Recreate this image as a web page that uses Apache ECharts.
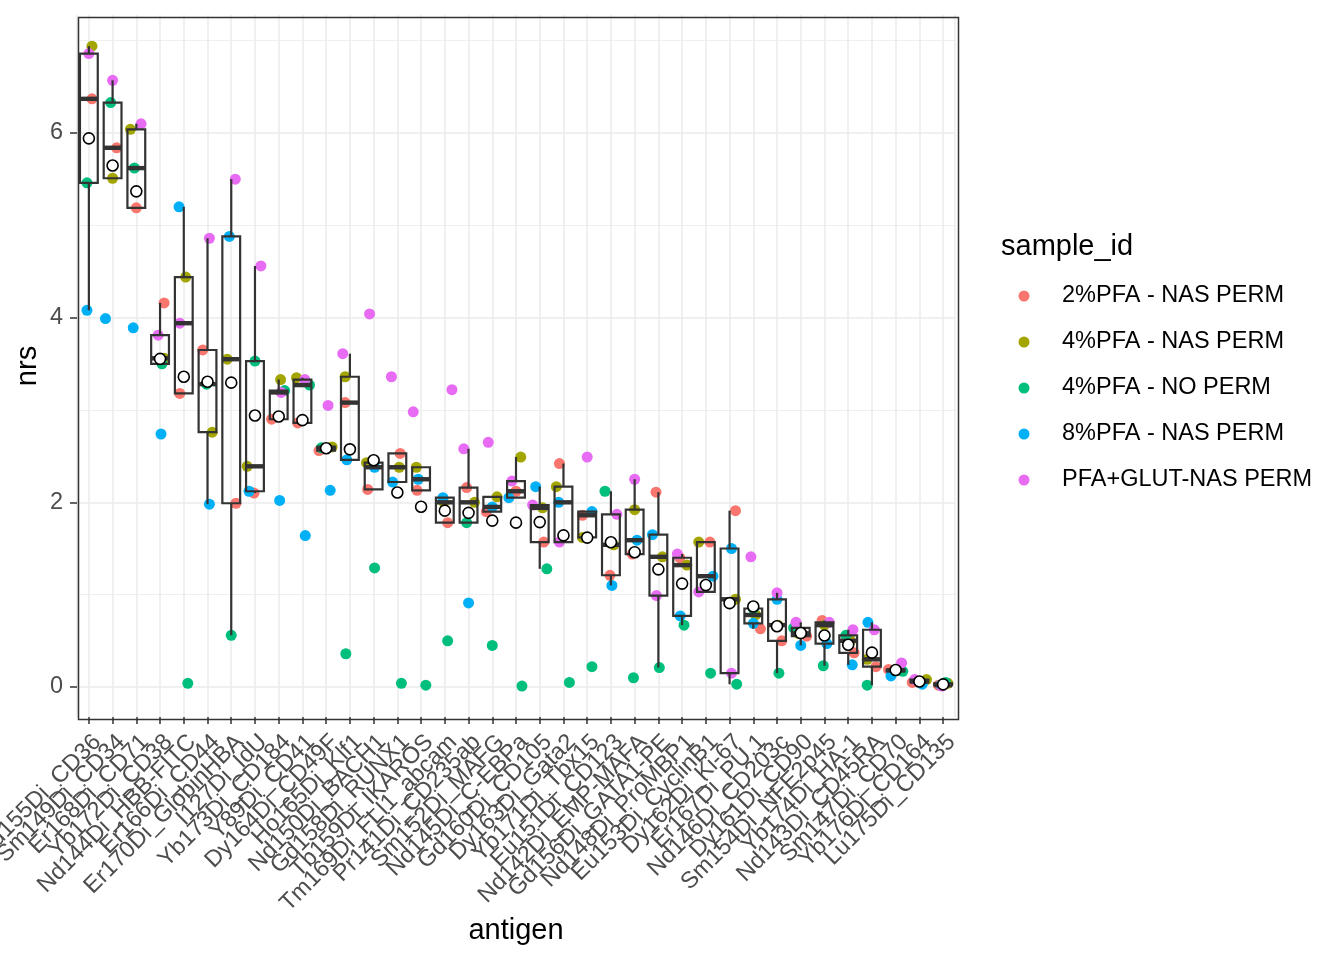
<!DOCTYPE html>
<html>
<head>
<meta charset="utf-8">
<script src="https://cdn.jsdelivr.net/npm/echarts@6/dist/echarts.min.js"></script>
<style>
  html, body { margin: 0; padding: 0; background: #fff; }
  #chart { width: 1344px; height: 960px; }
</style>
</head>
<body>
<div id="chart"></div>
<script>
const antigens = [
  'Gd155Di_CD36', 'Sm149Di_CD34', 'Er168Di_CD71', 'Yb172Di_CD38', 'Nd144Di_HBB-FITC',
  'Er166Di_CD44', 'Er170Di_GlobinHBA', 'I127Di_IdU', 'Yb173Di_CD184', 'Y89Di_CD41',
  'Dy164Di_CD49F', 'Ho165Di_Klf1', 'Nd150Di_BACH1', 'Gd158Di_RUNX1', 'Tb159Di_IKAROS',
  'Tm169Di_FLI1_abcam', 'Pr141Di_CD235ab', 'Sm152Di_MAFG', 'Nd145Di_C-EBPa', 'Gd160Di_CD105',
  'Dy163Di_Gata2', 'Yb171Di_Tbx15', 'Eu151Di_CD123', 'Nd142Di_EMP-MAFA', 'Gd156Di_GATA1-PE',
  'Nd148Di_ProMBP1', 'Eu153Di_CyclinB1', 'Dy162Di_Ki-67', 'Er167Di_PU.1', 'Nd146Di_CD203c',
  'Dy161Di_CD90', 'Sm154Di_NFE2p45', 'Yb174Di_HA-1', 'Nd143Di_CD45RA', 'Sm147Di_CD70',
  'Yb176Di_CD164', 'Lu175Di_CD135'
];

const sampleIds = ['2%PFA - NAS PERM', '4%PFA - NAS PERM', '4%PFA - NO PERM', '8%PFA - NAS PERM', 'PFA+GLUT-NAS PERM'];
const sampleColors = ['#F8766D', '#A3A500', '#00BF7D', '#00B0F6', '#E76BF3'];

// nrs per antigen, one array per sample
const pfa2Nas = [6.37, 5.84, 5.19, 4.16, 3.18, 3.65, 1.99, 2.10, 2.90, 2.86, 2.56, 3.08, 2.14, 2.53, 2.13, 1.78, 2.16, 1.90, 2.12, 1.57,
  2.42, 1.86, 1.21, 1.44, 2.11, 1.40, 1.57, 1.91, 0.63, 0.50, 0.55, 0.72, 0.37, 0.22, 0.19, 0.05, 0.02];
const pfa4Nas = [6.94, 5.51, 6.04, 3.56, 4.44, 2.76, 3.55, 2.39, 3.33, 3.35, 2.60, 3.36, 2.43, 2.38, 2.38, 2.00, 2.00, 2.06, 2.49, 1.94,
  2.17, 1.62, 1.54, 1.92, 1.41, 1.32, 1.57, 0.95, 0.78, 0.67, 0.58, 0.67, 0.50, 0.30, 0.18, 0.08, 0.04];
const pfa4NoPerm = [5.46, 6.33, 5.62, 3.50, 0.04, 3.28, 0.56, 3.53, 3.21, 3.27, 2.59, 0.36, 1.29, 0.04, 0.02, 0.50, 1.78, 0.45, 0.01, 1.28,
  0.05, 0.22, 2.12, 0.10, 0.21, 0.67, 0.15, 0.03, 0.85, 0.15, 0.64, 0.23, 0.56, 0.02, 0.17, 0.06, 0.05];
const pfa8Nas = [4.08, 3.99, 3.89, 2.74, 5.20, 1.98, 4.88, 2.12, 2.02, 1.64, 2.13, 2.46, 2.38, 2.22, 2.25, 2.05, 0.91, 1.95, 2.05, 2.17,
  2.00, 1.90, 1.10, 1.59, 1.65, 0.77, 1.20, 1.50, 0.69, 0.95, 0.45, 0.47, 0.24, 0.70, 0.12, 0.03, 0.02];
const pfaGlut = [6.86, 6.57, 6.10, 3.81, 3.94, 4.86, 5.50, 4.56, 3.19, 3.33, 3.05, 3.61, 4.04, 3.36, 2.98, 3.22, 2.58, 2.65, 2.23, 1.97,
  1.57, 2.49, 1.87, 2.25, 0.99, 1.44, 1.03, 0.15, 1.41, 1.02, 0.70, 0.70, 0.62, 0.62, 0.26, 0.08, 0.01];

// horizontal jitter of each point, in category widths
const pfa2NasJit = [0.13, 0.17, 0, 0.17, -0.17, -0.2, 0.2, -0.04, -0.3, -0.2, -0.3, -0.2, -0.25, 0.12, -0.17, 0.12, -0.08, -0.25, 0, 0.17,
  -0.17, -0.2, -0.04, -0.1, -0.1, -0.1, 0.17, 0.25, 0.3, 0.2, 0.25, -0.1, 0.25, 0.17, -0.3, -0.3, -0.2];
const pfa4NasJit = [0.13, 0, -0.25, 0.17, 0.08, 0.2, -0.17, -0.33, 0.08, -0.25, 0.25, -0.2, -0.3, 0.08, -0.2, -0.04, 0.25, 0.2, 0.2, 0.12,
  -0.3, -0.2, 0.12, 0, 0.17, 0.2, -0.3, 0.25, 0.1, 0.04, -0.1, 0, 0.1, -0.2, 0, 0.3, 0.2];
const pfa4NoPermJit = [-0.08, -0.08, -0.08, 0.08, 0.17, -0.04, 0, 0, 0.25, 0.3, -0.2, -0.17, 0.04, 0.17, 0.2, 0.12, -0.08, 0, 0.25, 0.3,
  0.25, 0.2, -0.25, -0.05, 0.04, 0.08, 0.2, 0.3, 0, 0.08, -0.3, -0.05, -0.1, -0.2, 0.3, 0, 0.1];
const pfa8NasJit = [-0.08, -0.3, -0.13, 0.04, -0.2, 0.08, -0.08, -0.25, 0.04, 0.12, 0.17, -0.13, 0.04, -0.2, -0.12, -0.08, 0, 0, -0.3, -0.17,
  -0.2, 0.2, 0.04, 0.1, -0.25, -0.08, 0.3, 0.08, 0, 0, 0, 0.1, 0.17, -0.17, -0.2, 0.12, -0.1];
const pfaGlutJit = [0, 0, 0.2, -0.08, -0.17, 0.08, 0.17, 0.25, 0.1, 0.1, 0.08, -0.3, -0.17, -0.25, -0.33, 0.3, -0.2, -0.17, -0.17, -0.3,
  -0.17, 0, 0.25, 0, -0.08, -0.2, -0.3, 0.08, -0.1, 0, -0.2, 0.2, 0.2, 0.1, 0.25, -0.2, -0.05];

const sampleValues = [pfa2Nas, pfa4Nas, pfa4NoPerm, pfa8Nas, pfaGlut];
const sampleJitter = [pfa2NasJit, pfa4NasJit, pfa4NoPermJit, pfa8NasJit, pfaGlutJit];

const yTicks = [0, 2, 4, 6];

const FONT = '"Liberation Sans", Arial, Helvetica, sans-serif';

// R type 7 quantile
function quantile(sorted, p) {
  const h = (sorted.length - 1) * p;
  const lo = Math.floor(h);
  const hi = Math.ceil(h);
  return sorted[lo] + (h - lo) * (sorted[hi] - sorted[lo]);
}

const boxData = [];
const meanData = [];
antigens.forEach((name, i) => {
  const vals = sampleValues.map(s => s[i]);
  const sorted = vals.slice().sort((a, b) => a - b);
  const q1 = quantile(sorted, 0.25);
  const med = quantile(sorted, 0.5);
  const q3 = quantile(sorted, 0.75);
  const iqr = q3 - q1;
  const inside = sorted.filter(v => v >= q1 - 1.5 * iqr && v <= q3 + 1.5 * iqr);
  boxData.push([i, inside[0], q1, med, q3, inside[inside.length - 1]]);
  meanData.push([i, vals.reduce((a, b) => a + b, 0) / vals.length]);
});

const chart = echarts.init(document.getElementById('chart'), null, { renderer: 'canvas' });

const pointSeries = sampleIds.map((name, k) => ({
  name: name,
  type: 'scatter',
  xAxisIndex: 1,
  yAxisIndex: 0,
  z: 2,
  symbol: 'circle',
  symbolSize: 11,
  itemStyle: { color: sampleColors[k], opacity: 1 },
  emphasis: { disabled: true },
  data: sampleValues[k].map((v, i) => [i + sampleJitter[k][i], v])
}));

const option = {
  backgroundColor: '#fff',
  animation: false,
  textStyle: { fontFamily: FONT },
  color: sampleColors,
  title: {
    text: 'sample_id',
    left: 1001,
    top: 232,
    padding: 0,
    textStyle: { fontSize: 29, fontWeight: 'normal', color: '#000', fontFamily: FONT }
  },
  legend: {
    orient: 'vertical',
    left: 1018.5,
    top: 284,
    padding: 0,
    itemWidth: 11,
    itemHeight: 11,
    itemGap: 22,
    icon: 'circle',
    data: sampleIds,
    formatter: name => '{gap|}' + name,
    textStyle: {
      fontSize: 23.5, lineHeight: 24, color: '#000', fontFamily: FONT,
      rich: { gap: { width: 27.5 } }
    }
  },
  grid: { left: 77, top: 15, width: 878, height: 702, containLabel: false, outerBoundsMode: 'none' },
  xAxis: [
    {
      type: 'category',
      data: antigens,
      boundaryGap: true,
      axisLine: { show: false, onZero: false },
      axisTick: { show: true, alignWithLabel: true, length: 7, lineStyle: { color: '#333333', width: 1.5 } },
      axisLabel: {
        interval: 0, rotate: 45, margin: 13,
        align: 'right', verticalAlign: 'top',
        fontSize: 23.5, color: '#4D4D4D', fontFamily: FONT
      },
      splitLine: { show: false },
      name: 'antigen',
      nameLocation: 'middle',
      nameGap: 199,
      nameMoveOverlap: false,
      nameTextStyle: { fontSize: 29, color: '#000', fontFamily: FONT }
    },
    {
      type: 'value',
      min: -0.5,
      max: 36.5,
      splitNumber: 37,
      axisLine: { show: false, onZero: false },
      axisTick: { show: false },
      axisLabel: { show: false },
      splitLine: { show: true, lineStyle: { color: '#EBEBEB', width: 1.5 } }
    }
  ],
  yAxis: {
    type: 'value',
    min: -0.325,
    max: 7.278,
    splitNumber: 4,
    axisLine: { show: false, onZero: false },
    axisTick: { show: true, length: 7, customValues: yTicks, lineStyle: { color: '#333333', width: 1.5 } },
    axisLabel: {
      customValues: yTicks,
      margin: 14,
      fontSize: 23.5,
      color: '#4D4D4D',
      fontFamily: FONT,
      formatter: v => (Number.isInteger(v) ? String(v) : '')
    },
    splitLine: { show: true, lineStyle: { color: '#EBEBEB', width: 1.5 } },
    minorTick: { show: false, splitNumber: 2 },
    minorSplitLine: { show: true, lineStyle: { color: '#EBEBEB', width: 0.8 } },
    name: 'nrs',
    nameLocation: 'middle',
    nameGap: 35,
    nameMoveOverlap: false,
    nameRotate: 90,
    nameTextStyle: { fontSize: 29, color: '#000', fontFamily: FONT }
  },
  graphic: [
    {
      type: 'rect',
      left: 76,
      top: 15,
      z: 100,
      silent: true,
      shape: { width: 880, height: 702 },
      style: { fill: 'none', stroke: '#333333', lineWidth: 1.5 }
    }
  ],
  series: pointSeries.concat([
    {
      name: 'box',
      type: 'custom',
      xAxisIndex: 1,
      yAxisIndex: 0,
      z: 3,
      silent: true,
      data: boxData,
      renderItem: function (params, api) {
        const x = api.value(0);
        const lo = api.coord([x, api.value(1)]);
        const q1 = api.coord([x, api.value(2)]);
        const md = api.coord([x, api.value(3)]);
        const q3 = api.coord([x, api.value(4)]);
        const hi = api.coord([x, api.value(5)]);
        const w = api.size([1, 0])[0] * 0.75;
        const cx = q1[0];
        const stroke = { stroke: '#333333', lineWidth: 2.2, fill: 'none' };
        return {
          type: 'group',
          children: [
            { type: 'line', shape: { x1: cx, y1: hi[1], x2: cx, y2: q3[1] }, style: stroke },
            { type: 'line', shape: { x1: cx, y1: q1[1], x2: cx, y2: lo[1] }, style: stroke },
            { type: 'rect', shape: { x: cx - w / 2, y: q3[1], width: w, height: q1[1] - q3[1] }, style: stroke },
            { type: 'line', shape: { x1: cx - w / 2, y1: md[1], x2: cx + w / 2, y2: md[1] },
              style: { stroke: '#333333', lineWidth: 4.4 } }
          ]
        };
      }
    },
    {
      name: 'mean',
      type: 'scatter',
      xAxisIndex: 1,
      yAxisIndex: 0,
      z: 4,
      symbol: 'circle',
      symbolSize: 11,
      itemStyle: { color: '#FFFFFF', borderColor: '#000000', borderWidth: 1.6, opacity: 1 },
      emphasis: { disabled: true },
      data: meanData
    }
  ])
};

chart.setOption(option);
</script>
</body>
</html>
